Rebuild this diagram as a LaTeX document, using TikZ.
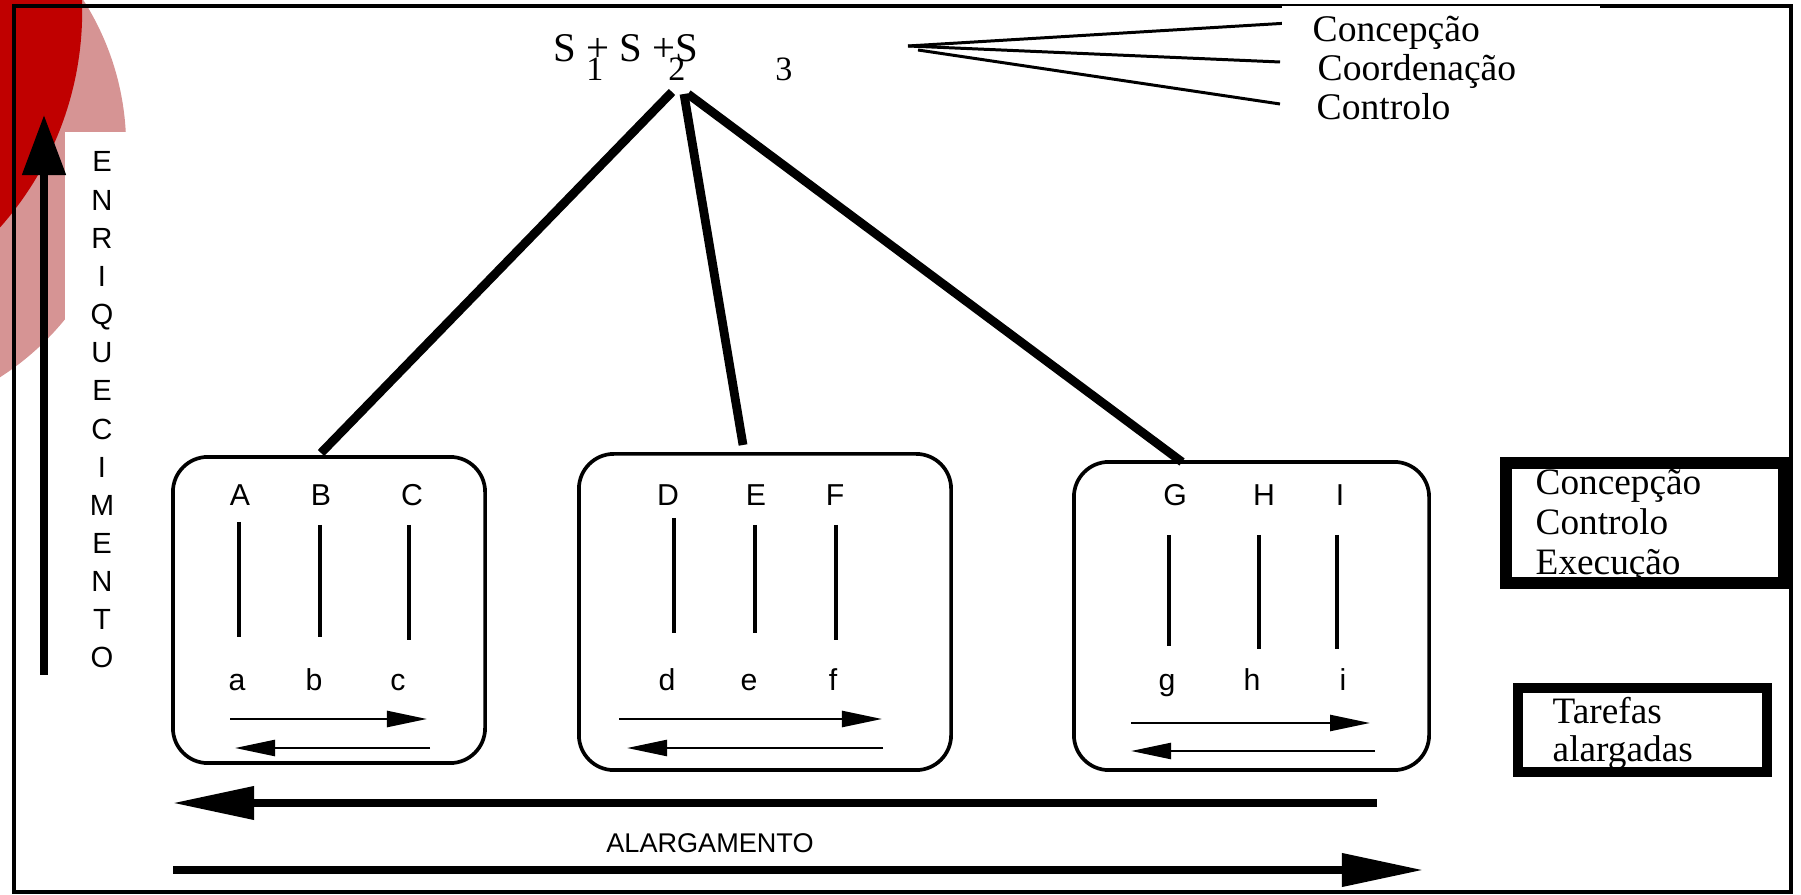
\documentclass[tikz,border=0pt]{standalone}
\usepackage{fontspec}
\setmainfont{Liberation Serif}
\newfontfamily\arialfont{Liberation Sans}
\usetikzlibrary{arrows.meta}
\definecolor{deepred}{RGB}{192,0,0}
\definecolor{rosered}{RGB}{214,148,148}

\begin{document}
\begin{tikzpicture}[x=0.01cm,y=-0.01cm,
  frame/.style={line width=1pt},
  taskbox/.style={draw, line width=1.05pt, rounded corners=0.35cm, inner sep=0pt},
  bar/.style={line width=1pt},
  flow/.style={line width=0.7pt, -{Triangle[length=4mm,width=1.6mm]}},
  bigflow/.style={line width=2pt, -{Triangle[length=8.1mm,width=3.2mm]}},
  upflow/.style={line width=2.3pt, -{Triangle[length=6mm,width=4.2mm]}},
  link/.style={line width=2.5pt},
  fan/.style={line width=0.85pt},
  letter/.style={font=\arialfont\fontsize{8.6}{10}\selectfont, inner sep=0pt, anchor=base},
  vletter/.style={font=\arialfont\fontsize{8.3}{10}\selectfont, inner sep=0pt, anchor=base},
  toplist/.style={font=\fontsize{10.7}{12}\selectfont, inner sep=0pt, anchor=base west},
  boxtext/.style={font=\fontsize{10.6}{12}\selectfont, inner sep=0pt, anchor=base west},
  sumtext/.style={font=\fontsize{11.6}{14}\selectfont, inner sep=0pt, anchor=base west},
  subtext/.style={font=\fontsize{9.7}{11}\selectfont, inner sep=0pt, anchor=base},
]
\useasboundingbox (0,0) rectangle (1801,895);

% decorative discs in the upper left corner
\begin{scope}
  \clip (0,0) rectangle (1801,895);
  \fill[rosered] (-147,147) circle (2.73cm);
  \fill[deepred] (-244,11) circle (3.26cm);
\end{scope}
\fill[white] (65,132) rectangle (150,700);

% outer frame
\draw[frame] (14,6) rectangle (1791,892);

% fan of lines towards the management functions
\coordinate (fanA) at (908,46);
\coordinate (fanB) at (918,50);
\coordinate (f1) at (1289,23);
\coordinate (f2) at (1280,62);
\coordinate (f3) at (1280,104);
\draw[fan] (fanA) -- (f1);
\draw[fan] (fanA) -- (f2);
\draw[fan] (fanB) -- (f3);

% panel with the management functions
\fill[white] (1282,6) rectangle (1600,125);
\node[toplist] (m1) at (1312,42) {Concepção};
\node[toplist] (m2) at (1317,81) {Coordenação};
\node[toplist] (m3) at (1316,120) {Controlo};

% sum of supervisors
\node[sumtext] (sum) at (553,62) {S + S +S};
\node[subtext] (sub1) at (595,81) {1};
\node[subtext] (sub2) at (677,81) {2};
\node[subtext] (sub3) at (784,81) {3};

% task groups
\node[taskbox, minimum width=3.12cm, minimum height=3.06cm] (box1) at (329,610) {};
\node[taskbox, minimum width=3.72cm, minimum height=3.16cm] (box2) at (765,612) {};
\node[taskbox, minimum width=3.55cm, minimum height=3.08cm] (box3) at (1251.5,616) {};

% links from the supervisors to the groups
\coordinate (s1) at (672,92);
\coordinate (s2) at (684,94);
\coordinate (s3) at (688,94);
\coordinate (t1) at (321,453);
\coordinate (t2) at (743,445);
\coordinate (t3) at (1182,462);
\draw[link] (s1) -- (t1);
\draw[link] (s2) -- (t2);
\draw[link] (s3) -- (t3);

% group 1
\node[letter] (A) at (240,506) {A};
\node[letter] (B) at (321,506) {B};
\node[letter] (C) at (412,506) {C};
\node[letter] (a) at (237,691) {a};
\node[letter] (b) at (314,691) {b};
\node[letter] (c) at (398,691) {c};
\draw[bar] (239,522) -- (239,637);
\draw[bar] (320,525) -- (320,637);
\draw[bar] (409,525) -- (409,640);
\coordinate (r1a) at (230,719); \coordinate (r1b) at (427,719);
\coordinate (l1a) at (430,748); \coordinate (l1b) at (235,748);
\draw[flow] (r1a) -- (r1b);
\draw[flow] (l1a) -- (l1b);

% group 2
\node[letter] (D) at (668,506) {D};
\node[letter] (E) at (756,506) {E};
\node[letter] (F) at (835,506) {F};
\node[letter] (d) at (667,691) {d};
\node[letter] (e) at (749,691) {e};
\node[letter] (f) at (833,691) {f};
\draw[bar] (674,518) -- (674,633);
\draw[bar] (755,525) -- (755,633);
\draw[bar] (836,525) -- (836,640);
\coordinate (r2a) at (619,719); \coordinate (r2b) at (882,719);
\coordinate (l2a) at (883,748); \coordinate (l2b) at (627,748);
\draw[flow] (r2a) -- (r2b);
\draw[flow] (l2a) -- (l2b);

% group 3
\node[letter] (G) at (1175,506) {G};
\node[letter] (H) at (1264,506) {H};
\node[letter] (I) at (1340,506) {I};
\node[letter] (g) at (1167,691) {g};
\node[letter] (h) at (1252,691) {h};
\node[letter] (i) at (1343,691) {i};
\draw[bar] (1169,535) -- (1169,646);
\draw[bar] (1259,535) -- (1259,649);
\draw[bar] (1337,535) -- (1337,649);
\coordinate (r3a) at (1131,723); \coordinate (r3b) at (1370,723);
\coordinate (l3a) at (1375,751); \coordinate (l3b) at (1131,751);
\draw[flow] (r3a) -- (r3b);
\draw[flow] (l3a) -- (l3b);

% enrichment axis
\coordinate (up0) at (44,675);
\coordinate (up1) at (44,115);
\draw[upflow] (up0) -- (up1);
\foreach \ch [count=\k from 0] in {E,N,R,I,Q,U,E,C,I,M,E,N,T,O}
  \node[vletter] (enr\k) at (102,172+38.15*\k) {\ch};

% enlargement axis
\coordinate (wl0) at (1377,803);
\coordinate (wl1) at (173,803);
\coordinate (wr0) at (173,870);
\coordinate (wr1) at (1423,870);
\draw[bigflow] (wl0) -- (wl1);
\draw[bigflow] (wr0) -- (wr1);
\node[font=\arialfont\fontsize{7.7}{9}\selectfont, inner sep=0pt] (alarg) at (710,843) {ALARGAMENTO};

% legend boxes on the right
\node[draw, line width=3.4pt, minimum width=2.78cm, minimum height=1.20cm, inner sep=0pt] (rolebox) at (1645,523) {};
\node[boxtext] (role1) at (1535,495) {Concepção};
\node[boxtext] (role2) at (1535,535) {Controlo};
\node[boxtext] (role3) at (1535,575) {Execução};

\node[draw, line width=2.85pt, minimum width=2.49cm, minimum height=0.84cm, inner sep=0pt] (taskleg) at (1642.5,730) {};
\node[boxtext] (task1) at (1552,723) {Tarefas};
\node[boxtext] (task2) at (1552,761) {alargadas};
\end{tikzpicture}
\end{document}
